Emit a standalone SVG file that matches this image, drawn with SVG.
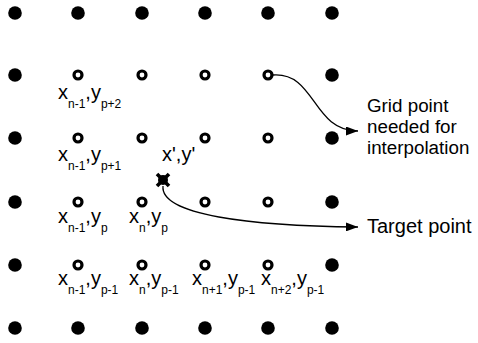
<svg xmlns="http://www.w3.org/2000/svg" xmlns:xlink="http://www.w3.org/1999/xlink" width="478" height="343" viewBox="0 0 478 343">
<style>
.t{font-family:"Liberation Sans",Arial,sans-serif;font-size:20px;fill:#000}
.s{font-size:12px}
.lg{font-size:18.8px}
.conn{fill:none;stroke:#000;stroke-width:1.3}
</style>
<defs>
<circle id="f" r="6.8" fill="#000"/>
<circle id="o" r="4" fill="#fff" stroke="#000" stroke-width="3.2"/>
<marker id="arr" markerWidth="12" markerHeight="9" refX="12" refY="4.5" orient="auto" markerUnits="userSpaceOnUse">
<path d="M0,0 L12,4.5 L0,9 Z" fill="#000"/>
</marker>
</defs>
<rect width="478" height="343" fill="#fff"/>
<g id="grid">
<g id="r0"><use href="#f" x="15" y="13"/><use href="#f" x="78" y="13"/><use href="#f" x="142" y="13"/><use href="#f" x="205" y="13"/><use href="#f" x="268" y="13"/><use href="#f" x="332" y="13"/></g>
<g id="r1"><use href="#f" x="15" y="75"/><use href="#o" x="78" y="75"/><use href="#o" x="142" y="75"/><use href="#o" x="205" y="75"/><use href="#o" x="268" y="75"/><use href="#f" x="332" y="75"/></g>
<g id="r2"><use href="#f" x="15" y="138"/><use href="#o" x="78" y="138"/><use href="#o" x="142" y="138"/><use href="#o" x="205" y="138"/><use href="#o" x="268" y="138"/><use href="#f" x="332" y="138"/></g>
<g id="r3"><use href="#f" x="15" y="202"/><use href="#o" x="78" y="202"/><use href="#o" x="142" y="202"/><use href="#o" x="205" y="202"/><use href="#o" x="268" y="202"/><use href="#f" x="332" y="202"/></g>
<g id="r4"><use href="#f" x="15" y="265"/><use href="#o" x="78" y="265"/><use href="#o" x="142" y="265"/><use href="#o" x="205" y="265"/><use href="#o" x="268" y="265"/><use href="#f" x="332" y="265"/></g>
<g id="r5"><use href="#f" x="15" y="328"/><use href="#f" x="78" y="328"/><use href="#f" x="142" y="328"/><use href="#f" x="205" y="328"/><use href="#f" x="268" y="328"/><use href="#f" x="332" y="328"/></g>
</g>
<g id="target">
<path d="M157,174 L169,186 M169,174 L157,186" stroke="#000" stroke-width="3.6"/>
<circle cx="163" cy="180" r="5" fill="#000"/>
</g>
<g id="labels">
<text class="t" x="58" y="99">x<tspan class="s" dy="9">n-1</tspan><tspan dy="-9">,y</tspan><tspan class="s" dy="9">p+2</tspan></text>
<text class="t" x="58" y="161">x<tspan class="s" dy="9">n-1</tspan><tspan dy="-9">,y</tspan><tspan class="s" dy="9">p+1</tspan></text>
<text class="t" x="162" y="161">x',y'</text>
<text class="t" x="58" y="223">x<tspan class="s" dy="9">n-1</tspan><tspan dy="-9">,y</tspan><tspan class="s" dy="9">p</tspan></text>
<text class="t" x="129" y="223">x<tspan class="s" dy="9">n</tspan><tspan dy="-9">,y</tspan><tspan class="s" dy="9">p</tspan></text>
<text class="t" x="58" y="285">x<tspan class="s" dy="9">n-1</tspan><tspan dy="-9">,y</tspan><tspan class="s" dy="9">p-1</tspan></text>
<text class="t" x="129" y="285">x<tspan class="s" dy="9">n</tspan><tspan dy="-9">,y</tspan><tspan class="s" dy="9">p-1</tspan></text>
<text class="t" x="192" y="285">x<tspan class="s" dy="9">n+1</tspan><tspan dy="-9">,y</tspan><tspan class="s" dy="9">p-1</tspan></text>
<text class="t" x="261" y="285">x<tspan class="s" dy="9">n+2</tspan><tspan dy="-9">,y</tspan><tspan class="s" dy="9">p-1</tspan></text>
</g>
<g id="legend-grid">
<text class="t lg" x="367" y="112"><tspan x="367" y="112">Grid point</tspan><tspan x="367" y="133">needed for</tspan><tspan x="367" y="154">interpolation</tspan></text>
</g>
<g id="legend-target">
<text class="t" x="367" y="233">Target point</text>
</g>
<g id="connectors">
<path class="conn" d="M273,75 C316,72 312,131 358,131" marker-end="url(#arr)"/>
<path class="conn" d="M163,186 C160,215 250,226 358,227" marker-end="url(#arr)"/>
</g>
</svg>
